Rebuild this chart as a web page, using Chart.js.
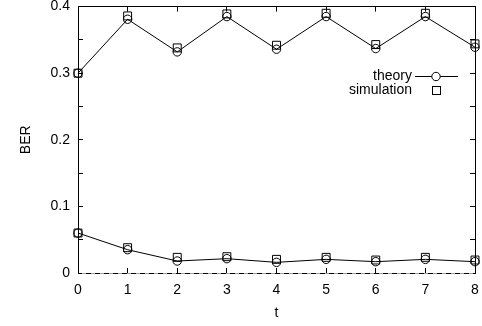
<!DOCTYPE html>
<html>
<head>
<meta charset="utf-8">
<script src="https://cdn.jsdelivr.net/npm/chart.js@4"></script>
<style>
html,body{margin:0;padding:0;background:#fff;}
canvas{display:block;}
</style>
</head>
<body>
<canvas id="c" width="482" height="326"></canvas>
<script>
const tValues = [0, 1, 2, 3, 4, 5, 6, 7, 8];
const theoryHigh = [0.300, 0.381, 0.332, 0.385, 0.336, 0.385, 0.337, 0.385, 0.339];
const simHigh    = [0.300, 0.386, 0.338, 0.389, 0.342, 0.390, 0.343, 0.390, 0.344];
const theoryLow  = [0.060, 0.035, 0.018, 0.0215, 0.016, 0.0205, 0.017, 0.0205, 0.017];
const simLow     = [0.060, 0.038, 0.0235, 0.0245, 0.0205, 0.0235, 0.0195, 0.0235, 0.0195];
const yLabels = ['0', '0.1', '0.2', '0.3', '0.4'];
const legendNames = ['theory', 'simulation'];

const pts = arr => arr.map((v, i) => ({x: tValues[i], y: v}));
const FONT = 'Liberation Sans, Arial, Helvetica, sans-serif';

const theoryStyle = {showLine: true, borderColor: '#000', borderWidth: 1, pointStyle: 'circle', pointRadius: 4.2,
  pointBorderColor: '#000', pointBackgroundColor: 'rgba(0,0,0,0)', pointBorderWidth: 1, clip: false};
const simStyle = {showLine: false, borderColor: '#000', pointStyle: 'rect', pointRadius: 5.6,
  pointBorderColor: '#000', pointBackgroundColor: 'rgba(0,0,0,0)', pointBorderWidth: 1, clip: false};

// inward tick marks drawn by Chart.js itself (negative tick length), no grid on the chart area
const tickGrid = {display: true, drawOnChartArea: false, drawTicks: true, tickLength: -5,
  color: '#000', tickColor: '#000', lineWidth: 1, tickWidth: 1};
const frameBorder = {display: true, color: '#000', width: 1};

const overlayPlugin = {
  id: 'overlay',
  afterDraw(chart) {
    const ctx = chart.ctx;
    const a = chart.chartArea;
    const y = chart.scales.y;
    ctx.save();
    ctx.setLineDash([]);
    // zero axis (dotted grey)
    ctx.fillStyle = '#a0a0a0';
    const py0 = Math.round(y.getPixelForValue(0));
    for (let xx = Math.round(a.left) + 4; xx < a.right - 3; xx += 9) {
      ctx.fillRect(xx, py0, 4, 1);
    }
    // legend
    ctx.fillStyle = '#000';
    ctx.strokeStyle = '#000';
    ctx.lineWidth = 1;
    ctx.font = '14px ' + FONT;
    ctx.textAlign = 'right';
    ctx.textBaseline = 'middle';
    const tx = 412, sx = 436;
    ctx.fillText(legendNames[0], tx, 76);
    ctx.fillText(legendNames[1], tx, 90);
    ctx.fillRect(415, 76, 43, 1);
    ctx.beginPath();
    ctx.arc(sx, 76.5, 4.2, 0, Math.PI * 2);
    ctx.fillStyle = '#fff';
    ctx.fill();
    ctx.stroke();
    ctx.strokeRect(sx - 3.5, 86.5, 8, 8);
    ctx.restore();
  }
};

new Chart(document.getElementById('c'), {
  type: 'scatter',
  data: {
    datasets: [
      Object.assign({label: legendNames[0], data: pts(theoryHigh)}, theoryStyle),
      Object.assign({label: legendNames[0], data: pts(theoryLow)}, theoryStyle),
      Object.assign({label: legendNames[1], data: pts(simHigh)}, simStyle),
      Object.assign({label: legendNames[1], data: pts(simLow)}, simStyle)
    ]
  },
  options: {
    responsive: false,
    animation: false,
    layout: {padding: {top: 6, right: 7, left: 0, bottom: 0}},
    plugins: {legend: {display: false}, tooltip: {enabled: false}},
    scales: {
      x: {
        type: 'linear', position: 'bottom', min: 0, max: 8,
        grid: tickGrid,
        border: frameBorder,
        ticks: {stepSize: 1, color: '#000', padding: 14, font: {size: 14, family: FONT}},
        title: {display: true, text: 't', color: '#000', font: {size: 14, family: FONT}, padding: {top: 0, bottom: 4}},
        afterFit: s => { s.height = 53; s.paddingLeft = 0; s.paddingRight = 0; }
      },
      x2: {
        type: 'linear', position: 'top', min: 0, max: 8,
        grid: tickGrid,
        border: frameBorder,
        ticks: {stepSize: 1, display: false},
        afterFit: s => { s.height = 0; s.paddingLeft = 0; s.paddingRight = 0; }
      },
      y: {
        type: 'linear', position: 'left', min: 0, max: 0.4,
        grid: tickGrid,
        border: frameBorder,
        ticks: {stepSize: 0.05, color: '#000', padding: 13, font: {size: 14, family: FONT},
          callback: v => {
            const k = Math.round(v * 20);
            return k % 2 === 0 ? yLabels[k / 2] : '';
          }},
        title: {display: true, text: 'BER', color: '#000', font: {size: 14, family: FONT}, padding: {top: 18, bottom: 0}},
        afterFit: s => { s.width = 78; s.paddingTop = 0; s.paddingBottom = 0; }
      },
      y2: {
        type: 'linear', position: 'right', min: 0, max: 0.4,
        grid: tickGrid,
        border: frameBorder,
        ticks: {stepSize: 0.05, display: false},
        afterFit: s => { s.width = 0; s.paddingTop = 0; s.paddingBottom = 0; }
      }
    }
  },
  plugins: [overlayPlugin]
});
</script>
</body>
</html>
